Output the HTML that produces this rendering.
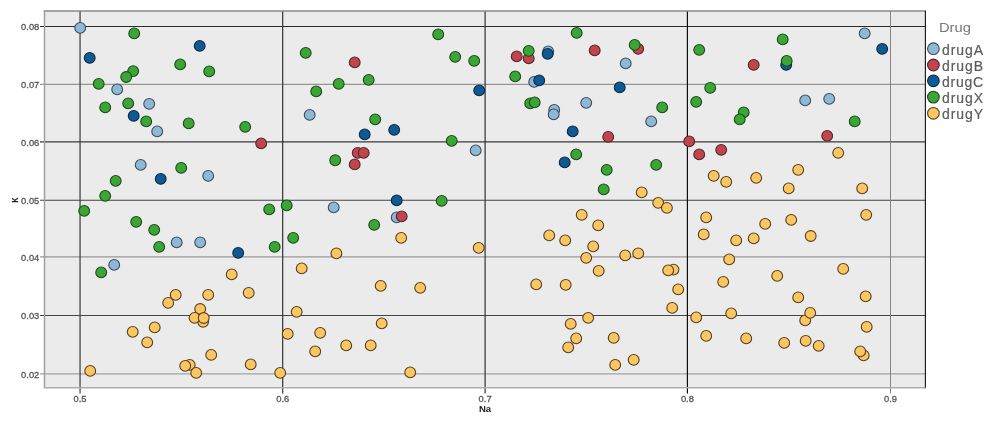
<!DOCTYPE html><html><head><meta charset="utf-8"><style>html,body{margin:0;padding:0;background:#fff}svg{display:block}text{font-family:"Liberation Sans",sans-serif}</style></head><body>
<svg width="998" height="422" viewBox="0 0 998 422">
<rect width="998" height="422" fill="#fff"/>
<g filter="url(#bl2)">
<rect x="44.5" y="11.0" width="880.9" height="376.8" fill="#ebebeb"/>
<line x1="40" x2="925.4" y1="26.5" y2="26.5" stroke="#2a2a2a" stroke-width="1.05"/>
<line x1="40" x2="925.4" y1="84.3" y2="84.3" stroke="#808080" stroke-width="1.0"/>
<line x1="40" x2="925.4" y1="141.8" y2="141.8" stroke="#3a3a3a" stroke-width="1.15"/>
<line x1="40" x2="925.4" y1="200.3" y2="200.3" stroke="#444" stroke-width="1.1"/>
<line x1="40" x2="925.4" y1="256.95" y2="256.95" stroke="#999" stroke-width="1.3"/>
<line x1="40" x2="925.4" y1="315.5" y2="315.5" stroke="#444" stroke-width="1.1"/>
<line x1="40" x2="925.4" y1="373.95" y2="373.95" stroke="#a2a2a2" stroke-width="1.3"/>
<line x1="80.05" x2="80.05" y1="11.0" y2="393.4" stroke="#3a3a3a" stroke-width="1.2"/>
<line x1="282.7" x2="282.7" y1="11.0" y2="393.4" stroke="#2a2a2a" stroke-width="1.15"/>
<line x1="485.1" x2="485.1" y1="11.0" y2="393.4" stroke="#333" stroke-width="1.2"/>
<line x1="687.4" x2="687.4" y1="11.0" y2="393.4" stroke="#050505" stroke-width="1.15"/>
<line x1="890.5" x2="890.5" y1="11.0" y2="393.4" stroke="#777" stroke-width="0.9"/>
<path d="M44.5 387.8V11.0" fill="none" stroke="#a0a0a0" stroke-width="1.5"/>
<path d="M43.8 11.0H925.4" fill="none" stroke="#8a8a8a" stroke-width="1.7"/>
<path d="M925.4 10.6V388.3" fill="none" stroke="#1a1a1a" stroke-width="1.15"/>
<path d="M43.8 387.8H925.4" fill="none" stroke="#adadad" stroke-width="1.6"/>
</g><g filter="url(#bl)">
<text x="21.1" y="30.4" font-size="9.7" fill="#555" stroke="#555" stroke-width="0.3" textLength="18.2" lengthAdjust="spacingAndGlyphs">0.08</text>
<text x="21.1" y="88.2" font-size="9.7" fill="#555" stroke="#555" stroke-width="0.3" textLength="18.2" lengthAdjust="spacingAndGlyphs">0.07</text>
<text x="21.1" y="145.8" font-size="9.7" fill="#555" stroke="#555" stroke-width="0.3" textLength="18.2" lengthAdjust="spacingAndGlyphs">0.06</text>
<text x="21.1" y="204.2" font-size="9.7" fill="#555" stroke="#555" stroke-width="0.3" textLength="18.2" lengthAdjust="spacingAndGlyphs">0.05</text>
<text x="21.1" y="260.9" font-size="9.7" fill="#555" stroke="#555" stroke-width="0.3" textLength="18.2" lengthAdjust="spacingAndGlyphs">0.04</text>
<text x="21.1" y="319.4" font-size="9.7" fill="#555" stroke="#555" stroke-width="0.3" textLength="18.2" lengthAdjust="spacingAndGlyphs">0.03</text>
<text x="21.1" y="377.9" font-size="9.7" fill="#555" stroke="#555" stroke-width="0.3" textLength="18.2" lengthAdjust="spacingAndGlyphs">0.02</text>
<text x="73.5" y="401.8" font-size="9.7" fill="#555" stroke="#555" stroke-width="0.3" textLength="13" lengthAdjust="spacingAndGlyphs">0.5</text>
<text x="276.2" y="401.8" font-size="9.7" fill="#555" stroke="#555" stroke-width="0.3" textLength="13" lengthAdjust="spacingAndGlyphs">0.6</text>
<text x="478.6" y="401.8" font-size="9.7" fill="#555" stroke="#555" stroke-width="0.3" textLength="13" lengthAdjust="spacingAndGlyphs">0.7</text>
<text x="680.9" y="401.8" font-size="9.7" fill="#555" stroke="#555" stroke-width="0.3" textLength="13" lengthAdjust="spacingAndGlyphs">0.8</text>
<text x="884.0" y="401.8" font-size="9.7" fill="#555" stroke="#555" stroke-width="0.3" textLength="13" lengthAdjust="spacingAndGlyphs">0.9</text>
<text x="478.9" y="411.7" font-size="9.3" font-weight="bold" fill="#222" textLength="12.2" lengthAdjust="spacingAndGlyphs">Na</text>
<text transform="translate(18.2,200) rotate(-90) scale(0.8,1)" font-size="8.5" font-weight="bold" fill="#222" stroke="#222" stroke-width="0.2" text-anchor="middle">K</text>
<circle cx="80.20" cy="27.90" r="5.4" fill="#8db8d6" stroke="#3e4d5a" stroke-width="1.1"/>
<circle cx="117.20" cy="89.40" r="5.4" fill="#8db8d6" stroke="#3e4d5a" stroke-width="1.1"/>
<circle cx="149.20" cy="103.90" r="5.4" fill="#8db8d6" stroke="#3e4d5a" stroke-width="1.1"/>
<circle cx="157.20" cy="131.40" r="5.4" fill="#8db8d6" stroke="#3e4d5a" stroke-width="1.1"/>
<circle cx="140.70" cy="164.90" r="5.4" fill="#8db8d6" stroke="#3e4d5a" stroke-width="1.1"/>
<circle cx="208.20" cy="175.90" r="5.4" fill="#8db8d6" stroke="#3e4d5a" stroke-width="1.1"/>
<circle cx="309.70" cy="114.90" r="5.4" fill="#8db8d6" stroke="#3e4d5a" stroke-width="1.1"/>
<circle cx="333.70" cy="207.40" r="5.4" fill="#8db8d6" stroke="#3e4d5a" stroke-width="1.1"/>
<circle cx="176.70" cy="242.40" r="5.4" fill="#8db8d6" stroke="#3e4d5a" stroke-width="1.1"/>
<circle cx="200.20" cy="242.40" r="5.4" fill="#8db8d6" stroke="#3e4d5a" stroke-width="1.1"/>
<circle cx="114.20" cy="264.90" r="5.4" fill="#8db8d6" stroke="#3e4d5a" stroke-width="1.1"/>
<circle cx="475.70" cy="150.40" r="5.4" fill="#8db8d6" stroke="#3e4d5a" stroke-width="1.1"/>
<circle cx="396.70" cy="217.40" r="5.4" fill="#8db8d6" stroke="#3e4d5a" stroke-width="1.1"/>
<circle cx="548.20" cy="51.40" r="5.4" fill="#8db8d6" stroke="#3e4d5a" stroke-width="1.1"/>
<circle cx="625.70" cy="63.40" r="5.4" fill="#8db8d6" stroke="#3e4d5a" stroke-width="1.1"/>
<circle cx="534.20" cy="81.90" r="5.4" fill="#8db8d6" stroke="#3e4d5a" stroke-width="1.1"/>
<circle cx="586.20" cy="102.90" r="5.4" fill="#8db8d6" stroke="#3e4d5a" stroke-width="1.1"/>
<circle cx="554.20" cy="109.90" r="5.4" fill="#8db8d6" stroke="#3e4d5a" stroke-width="1.1"/>
<circle cx="553.70" cy="114.40" r="5.4" fill="#8db8d6" stroke="#3e4d5a" stroke-width="1.1"/>
<circle cx="651.20" cy="121.40" r="5.4" fill="#8db8d6" stroke="#3e4d5a" stroke-width="1.1"/>
<circle cx="864.70" cy="33.40" r="5.4" fill="#8db8d6" stroke="#3e4d5a" stroke-width="1.1"/>
<circle cx="805.20" cy="100.40" r="5.4" fill="#8db8d6" stroke="#3e4d5a" stroke-width="1.1"/>
<circle cx="829.20" cy="98.90" r="5.4" fill="#8db8d6" stroke="#3e4d5a" stroke-width="1.1"/>
<circle cx="261.20" cy="143.40" r="5.4" fill="#c2444e" stroke="#4d2a2e" stroke-width="1.1"/>
<circle cx="354.70" cy="62.40" r="5.4" fill="#c2444e" stroke="#4d2a2e" stroke-width="1.1"/>
<circle cx="357.70" cy="152.90" r="5.4" fill="#c2444e" stroke="#4d2a2e" stroke-width="1.1"/>
<circle cx="363.70" cy="152.90" r="5.4" fill="#c2444e" stroke="#4d2a2e" stroke-width="1.1"/>
<circle cx="354.70" cy="164.40" r="5.4" fill="#c2444e" stroke="#4d2a2e" stroke-width="1.1"/>
<circle cx="401.70" cy="216.40" r="5.4" fill="#c2444e" stroke="#4d2a2e" stroke-width="1.1"/>
<circle cx="638.20" cy="48.90" r="5.4" fill="#c2444e" stroke="#4d2a2e" stroke-width="1.1"/>
<circle cx="594.70" cy="50.40" r="5.4" fill="#c2444e" stroke="#4d2a2e" stroke-width="1.1"/>
<circle cx="516.70" cy="56.40" r="5.4" fill="#c2444e" stroke="#4d2a2e" stroke-width="1.1"/>
<circle cx="528.70" cy="58.40" r="5.4" fill="#c2444e" stroke="#4d2a2e" stroke-width="1.1"/>
<circle cx="608.20" cy="136.90" r="5.4" fill="#c2444e" stroke="#4d2a2e" stroke-width="1.1"/>
<circle cx="753.70" cy="64.90" r="5.4" fill="#c2444e" stroke="#4d2a2e" stroke-width="1.1"/>
<circle cx="827.20" cy="135.90" r="5.4" fill="#c2444e" stroke="#4d2a2e" stroke-width="1.1"/>
<circle cx="689.20" cy="141.40" r="5.4" fill="#c2444e" stroke="#4d2a2e" stroke-width="1.1"/>
<circle cx="699.20" cy="154.40" r="5.4" fill="#c2444e" stroke="#4d2a2e" stroke-width="1.1"/>
<circle cx="721.20" cy="149.90" r="5.4" fill="#c2444e" stroke="#4d2a2e" stroke-width="1.1"/>
<circle cx="199.70" cy="45.90" r="5.4" fill="#0f5a94" stroke="#0e2a42" stroke-width="1.1"/>
<circle cx="89.70" cy="57.90" r="5.4" fill="#0f5a94" stroke="#0e2a42" stroke-width="1.1"/>
<circle cx="133.70" cy="115.90" r="5.4" fill="#0f5a94" stroke="#0e2a42" stroke-width="1.1"/>
<circle cx="160.70" cy="178.90" r="5.4" fill="#0f5a94" stroke="#0e2a42" stroke-width="1.1"/>
<circle cx="479.20" cy="90.40" r="5.4" fill="#0f5a94" stroke="#0e2a42" stroke-width="1.1"/>
<circle cx="394.20" cy="129.90" r="5.4" fill="#0f5a94" stroke="#0e2a42" stroke-width="1.1"/>
<circle cx="364.70" cy="134.40" r="5.4" fill="#0f5a94" stroke="#0e2a42" stroke-width="1.1"/>
<circle cx="396.70" cy="200.40" r="5.4" fill="#0f5a94" stroke="#0e2a42" stroke-width="1.1"/>
<circle cx="547.70" cy="53.90" r="5.4" fill="#0f5a94" stroke="#0e2a42" stroke-width="1.1"/>
<circle cx="539.20" cy="80.40" r="5.4" fill="#0f5a94" stroke="#0e2a42" stroke-width="1.1"/>
<circle cx="619.70" cy="87.40" r="5.4" fill="#0f5a94" stroke="#0e2a42" stroke-width="1.1"/>
<circle cx="572.70" cy="131.40" r="5.4" fill="#0f5a94" stroke="#0e2a42" stroke-width="1.1"/>
<circle cx="564.70" cy="162.40" r="5.4" fill="#0f5a94" stroke="#0e2a42" stroke-width="1.1"/>
<circle cx="882.20" cy="48.90" r="5.4" fill="#0f5a94" stroke="#0e2a42" stroke-width="1.1"/>
<circle cx="786.20" cy="64.90" r="5.4" fill="#0f5a94" stroke="#0e2a42" stroke-width="1.1"/>
<circle cx="238.20" cy="252.90" r="5.4" fill="#0f5a94" stroke="#0e2a42" stroke-width="1.1"/>
<circle cx="134.20" cy="33.40" r="5.4" fill="#3aa635" stroke="#1f4a1d" stroke-width="1.1"/>
<circle cx="180.20" cy="64.40" r="5.4" fill="#3aa635" stroke="#1f4a1d" stroke-width="1.1"/>
<circle cx="209.20" cy="71.40" r="5.4" fill="#3aa635" stroke="#1f4a1d" stroke-width="1.1"/>
<circle cx="133.20" cy="71.10" r="5.4" fill="#3aa635" stroke="#1f4a1d" stroke-width="1.1"/>
<circle cx="126.20" cy="77.00" r="5.4" fill="#3aa635" stroke="#1f4a1d" stroke-width="1.1"/>
<circle cx="98.70" cy="83.90" r="5.4" fill="#3aa635" stroke="#1f4a1d" stroke-width="1.1"/>
<circle cx="105.20" cy="107.40" r="5.4" fill="#3aa635" stroke="#1f4a1d" stroke-width="1.1"/>
<circle cx="128.20" cy="103.40" r="5.4" fill="#3aa635" stroke="#1f4a1d" stroke-width="1.1"/>
<circle cx="146.20" cy="121.40" r="5.4" fill="#3aa635" stroke="#1f4a1d" stroke-width="1.1"/>
<circle cx="188.70" cy="123.40" r="5.4" fill="#3aa635" stroke="#1f4a1d" stroke-width="1.1"/>
<circle cx="245.20" cy="126.90" r="5.4" fill="#3aa635" stroke="#1f4a1d" stroke-width="1.1"/>
<circle cx="181.20" cy="167.90" r="5.4" fill="#3aa635" stroke="#1f4a1d" stroke-width="1.1"/>
<circle cx="115.70" cy="180.90" r="5.4" fill="#3aa635" stroke="#1f4a1d" stroke-width="1.1"/>
<circle cx="105.20" cy="195.90" r="5.4" fill="#3aa635" stroke="#1f4a1d" stroke-width="1.1"/>
<circle cx="84.20" cy="210.90" r="5.4" fill="#3aa635" stroke="#1f4a1d" stroke-width="1.1"/>
<circle cx="269.20" cy="209.40" r="5.4" fill="#3aa635" stroke="#1f4a1d" stroke-width="1.1"/>
<circle cx="286.70" cy="205.40" r="5.4" fill="#3aa635" stroke="#1f4a1d" stroke-width="1.1"/>
<circle cx="305.70" cy="52.90" r="5.4" fill="#3aa635" stroke="#1f4a1d" stroke-width="1.1"/>
<circle cx="316.20" cy="91.40" r="5.4" fill="#3aa635" stroke="#1f4a1d" stroke-width="1.1"/>
<circle cx="335.20" cy="160.30" r="5.4" fill="#3aa635" stroke="#1f4a1d" stroke-width="1.1"/>
<circle cx="438.20" cy="34.40" r="5.4" fill="#3aa635" stroke="#1f4a1d" stroke-width="1.1"/>
<circle cx="455.20" cy="56.90" r="5.4" fill="#3aa635" stroke="#1f4a1d" stroke-width="1.1"/>
<circle cx="474.20" cy="60.90" r="5.4" fill="#3aa635" stroke="#1f4a1d" stroke-width="1.1"/>
<circle cx="338.70" cy="83.90" r="5.4" fill="#3aa635" stroke="#1f4a1d" stroke-width="1.1"/>
<circle cx="368.70" cy="79.90" r="5.4" fill="#3aa635" stroke="#1f4a1d" stroke-width="1.1"/>
<circle cx="375.20" cy="119.40" r="5.4" fill="#3aa635" stroke="#1f4a1d" stroke-width="1.1"/>
<circle cx="451.70" cy="140.90" r="5.4" fill="#3aa635" stroke="#1f4a1d" stroke-width="1.1"/>
<circle cx="441.70" cy="200.90" r="5.4" fill="#3aa635" stroke="#1f4a1d" stroke-width="1.1"/>
<circle cx="576.70" cy="32.90" r="5.4" fill="#3aa635" stroke="#1f4a1d" stroke-width="1.1"/>
<circle cx="634.70" cy="44.90" r="5.4" fill="#3aa635" stroke="#1f4a1d" stroke-width="1.1"/>
<circle cx="528.70" cy="50.90" r="5.4" fill="#3aa635" stroke="#1f4a1d" stroke-width="1.1"/>
<circle cx="515.20" cy="76.40" r="5.4" fill="#3aa635" stroke="#1f4a1d" stroke-width="1.1"/>
<circle cx="530.20" cy="103.40" r="5.4" fill="#3aa635" stroke="#1f4a1d" stroke-width="1.1"/>
<circle cx="534.70" cy="102.40" r="5.4" fill="#3aa635" stroke="#1f4a1d" stroke-width="1.1"/>
<circle cx="662.20" cy="107.40" r="5.4" fill="#3aa635" stroke="#1f4a1d" stroke-width="1.1"/>
<circle cx="576.20" cy="154.40" r="5.4" fill="#3aa635" stroke="#1f4a1d" stroke-width="1.1"/>
<circle cx="656.20" cy="164.90" r="5.4" fill="#3aa635" stroke="#1f4a1d" stroke-width="1.1"/>
<circle cx="606.70" cy="169.90" r="5.4" fill="#3aa635" stroke="#1f4a1d" stroke-width="1.1"/>
<circle cx="603.70" cy="189.40" r="5.4" fill="#3aa635" stroke="#1f4a1d" stroke-width="1.1"/>
<circle cx="699.20" cy="49.90" r="5.4" fill="#3aa635" stroke="#1f4a1d" stroke-width="1.1"/>
<circle cx="782.70" cy="39.40" r="5.4" fill="#3aa635" stroke="#1f4a1d" stroke-width="1.1"/>
<circle cx="786.70" cy="60.90" r="5.4" fill="#3aa635" stroke="#1f4a1d" stroke-width="1.1"/>
<circle cx="710.20" cy="87.90" r="5.4" fill="#3aa635" stroke="#1f4a1d" stroke-width="1.1"/>
<circle cx="696.20" cy="101.90" r="5.4" fill="#3aa635" stroke="#1f4a1d" stroke-width="1.1"/>
<circle cx="743.70" cy="112.40" r="5.4" fill="#3aa635" stroke="#1f4a1d" stroke-width="1.1"/>
<circle cx="739.70" cy="119.40" r="5.4" fill="#3aa635" stroke="#1f4a1d" stroke-width="1.1"/>
<circle cx="854.70" cy="121.40" r="5.4" fill="#3aa635" stroke="#1f4a1d" stroke-width="1.1"/>
<circle cx="136.20" cy="221.90" r="5.4" fill="#3aa635" stroke="#1f4a1d" stroke-width="1.1"/>
<circle cx="154.20" cy="229.90" r="5.4" fill="#3aa635" stroke="#1f4a1d" stroke-width="1.1"/>
<circle cx="159.20" cy="246.90" r="5.4" fill="#3aa635" stroke="#1f4a1d" stroke-width="1.1"/>
<circle cx="274.70" cy="246.90" r="5.4" fill="#3aa635" stroke="#1f4a1d" stroke-width="1.1"/>
<circle cx="293.20" cy="237.90" r="5.4" fill="#3aa635" stroke="#1f4a1d" stroke-width="1.1"/>
<circle cx="101.20" cy="272.40" r="5.4" fill="#3aa635" stroke="#1f4a1d" stroke-width="1.1"/>
<circle cx="374.20" cy="224.90" r="5.4" fill="#3aa635" stroke="#1f4a1d" stroke-width="1.1"/>
<circle cx="641.70" cy="192.40" r="5.4" fill="#ffc55f" stroke="#4f4228" stroke-width="1.1"/>
<circle cx="658.20" cy="202.90" r="5.4" fill="#ffc55f" stroke="#4f4228" stroke-width="1.1"/>
<circle cx="666.90" cy="207.90" r="5.4" fill="#ffc55f" stroke="#4f4228" stroke-width="1.1"/>
<circle cx="581.70" cy="214.90" r="5.4" fill="#ffc55f" stroke="#4f4228" stroke-width="1.1"/>
<circle cx="838.20" cy="152.90" r="5.4" fill="#ffc55f" stroke="#4f4228" stroke-width="1.1"/>
<circle cx="798.20" cy="169.90" r="5.4" fill="#ffc55f" stroke="#4f4228" stroke-width="1.1"/>
<circle cx="713.70" cy="175.90" r="5.4" fill="#ffc55f" stroke="#4f4228" stroke-width="1.1"/>
<circle cx="726.20" cy="181.90" r="5.4" fill="#ffc55f" stroke="#4f4228" stroke-width="1.1"/>
<circle cx="756.20" cy="177.90" r="5.4" fill="#ffc55f" stroke="#4f4228" stroke-width="1.1"/>
<circle cx="788.70" cy="188.40" r="5.4" fill="#ffc55f" stroke="#4f4228" stroke-width="1.1"/>
<circle cx="862.20" cy="188.40" r="5.4" fill="#ffc55f" stroke="#4f4228" stroke-width="1.1"/>
<circle cx="866.20" cy="214.90" r="5.4" fill="#ffc55f" stroke="#4f4228" stroke-width="1.1"/>
<circle cx="231.70" cy="274.40" r="5.4" fill="#ffc55f" stroke="#4f4228" stroke-width="1.1"/>
<circle cx="301.70" cy="268.40" r="5.4" fill="#ffc55f" stroke="#4f4228" stroke-width="1.1"/>
<circle cx="175.70" cy="294.90" r="5.4" fill="#ffc55f" stroke="#4f4228" stroke-width="1.1"/>
<circle cx="168.20" cy="302.90" r="5.4" fill="#ffc55f" stroke="#4f4228" stroke-width="1.1"/>
<circle cx="208.20" cy="294.90" r="5.4" fill="#ffc55f" stroke="#4f4228" stroke-width="1.1"/>
<circle cx="248.70" cy="292.90" r="5.4" fill="#ffc55f" stroke="#4f4228" stroke-width="1.1"/>
<circle cx="203.10" cy="321.80" r="5.4" fill="#ffc55f" stroke="#4f4228" stroke-width="1.1"/>
<circle cx="200.20" cy="309.00" r="5.4" fill="#ffc55f" stroke="#4f4228" stroke-width="1.1"/>
<circle cx="194.60" cy="317.90" r="5.4" fill="#ffc55f" stroke="#4f4228" stroke-width="1.1"/>
<circle cx="203.70" cy="318.00" r="5.4" fill="#ffc55f" stroke="#4f4228" stroke-width="1.1"/>
<circle cx="296.70" cy="311.90" r="5.4" fill="#ffc55f" stroke="#4f4228" stroke-width="1.1"/>
<circle cx="132.70" cy="331.90" r="5.4" fill="#ffc55f" stroke="#4f4228" stroke-width="1.1"/>
<circle cx="154.70" cy="327.40" r="5.4" fill="#ffc55f" stroke="#4f4228" stroke-width="1.1"/>
<circle cx="147.20" cy="342.40" r="5.4" fill="#ffc55f" stroke="#4f4228" stroke-width="1.1"/>
<circle cx="287.70" cy="333.90" r="5.4" fill="#ffc55f" stroke="#4f4228" stroke-width="1.1"/>
<circle cx="320.20" cy="332.90" r="5.4" fill="#ffc55f" stroke="#4f4228" stroke-width="1.1"/>
<circle cx="315.20" cy="351.40" r="5.4" fill="#ffc55f" stroke="#4f4228" stroke-width="1.1"/>
<circle cx="211.20" cy="354.90" r="5.4" fill="#ffc55f" stroke="#4f4228" stroke-width="1.1"/>
<circle cx="189.70" cy="364.90" r="5.4" fill="#ffc55f" stroke="#4f4228" stroke-width="1.1"/>
<circle cx="185.20" cy="365.90" r="5.4" fill="#ffc55f" stroke="#4f4228" stroke-width="1.1"/>
<circle cx="250.70" cy="364.40" r="5.4" fill="#ffc55f" stroke="#4f4228" stroke-width="1.1"/>
<circle cx="196.20" cy="372.90" r="5.4" fill="#ffc55f" stroke="#4f4228" stroke-width="1.1"/>
<circle cx="280.20" cy="372.90" r="5.4" fill="#ffc55f" stroke="#4f4228" stroke-width="1.1"/>
<circle cx="90.20" cy="370.90" r="5.4" fill="#ffc55f" stroke="#4f4228" stroke-width="1.1"/>
<circle cx="336.40" cy="253.40" r="5.4" fill="#ffc55f" stroke="#4f4228" stroke-width="1.1"/>
<circle cx="401.20" cy="237.90" r="5.4" fill="#ffc55f" stroke="#4f4228" stroke-width="1.1"/>
<circle cx="478.70" cy="247.90" r="5.4" fill="#ffc55f" stroke="#4f4228" stroke-width="1.1"/>
<circle cx="380.70" cy="285.90" r="5.4" fill="#ffc55f" stroke="#4f4228" stroke-width="1.1"/>
<circle cx="420.20" cy="287.90" r="5.4" fill="#ffc55f" stroke="#4f4228" stroke-width="1.1"/>
<circle cx="381.70" cy="323.40" r="5.4" fill="#ffc55f" stroke="#4f4228" stroke-width="1.1"/>
<circle cx="346.20" cy="345.40" r="5.4" fill="#ffc55f" stroke="#4f4228" stroke-width="1.1"/>
<circle cx="370.70" cy="345.40" r="5.4" fill="#ffc55f" stroke="#4f4228" stroke-width="1.1"/>
<circle cx="410.20" cy="372.40" r="5.4" fill="#ffc55f" stroke="#4f4228" stroke-width="1.1"/>
<circle cx="598.20" cy="225.40" r="5.4" fill="#ffc55f" stroke="#4f4228" stroke-width="1.1"/>
<circle cx="549.20" cy="235.40" r="5.4" fill="#ffc55f" stroke="#4f4228" stroke-width="1.1"/>
<circle cx="565.20" cy="240.40" r="5.4" fill="#ffc55f" stroke="#4f4228" stroke-width="1.1"/>
<circle cx="593.20" cy="246.40" r="5.4" fill="#ffc55f" stroke="#4f4228" stroke-width="1.1"/>
<circle cx="586.20" cy="257.90" r="5.4" fill="#ffc55f" stroke="#4f4228" stroke-width="1.1"/>
<circle cx="625.20" cy="255.40" r="5.4" fill="#ffc55f" stroke="#4f4228" stroke-width="1.1"/>
<circle cx="638.20" cy="253.40" r="5.4" fill="#ffc55f" stroke="#4f4228" stroke-width="1.1"/>
<circle cx="598.70" cy="270.90" r="5.4" fill="#ffc55f" stroke="#4f4228" stroke-width="1.1"/>
<circle cx="536.20" cy="284.40" r="5.4" fill="#ffc55f" stroke="#4f4228" stroke-width="1.1"/>
<circle cx="565.70" cy="284.90" r="5.4" fill="#ffc55f" stroke="#4f4228" stroke-width="1.1"/>
<circle cx="588.20" cy="317.90" r="5.4" fill="#ffc55f" stroke="#4f4228" stroke-width="1.1"/>
<circle cx="570.70" cy="323.90" r="5.4" fill="#ffc55f" stroke="#4f4228" stroke-width="1.1"/>
<circle cx="576.20" cy="338.40" r="5.4" fill="#ffc55f" stroke="#4f4228" stroke-width="1.1"/>
<circle cx="613.70" cy="337.90" r="5.4" fill="#ffc55f" stroke="#4f4228" stroke-width="1.1"/>
<circle cx="568.20" cy="347.40" r="5.4" fill="#ffc55f" stroke="#4f4228" stroke-width="1.1"/>
<circle cx="615.20" cy="364.90" r="5.4" fill="#ffc55f" stroke="#4f4228" stroke-width="1.1"/>
<circle cx="633.70" cy="359.90" r="5.4" fill="#ffc55f" stroke="#4f4228" stroke-width="1.1"/>
<circle cx="706.20" cy="217.40" r="5.4" fill="#ffc55f" stroke="#4f4228" stroke-width="1.1"/>
<circle cx="765.20" cy="223.90" r="5.4" fill="#ffc55f" stroke="#4f4228" stroke-width="1.1"/>
<circle cx="791.20" cy="219.90" r="5.4" fill="#ffc55f" stroke="#4f4228" stroke-width="1.1"/>
<circle cx="703.70" cy="234.40" r="5.4" fill="#ffc55f" stroke="#4f4228" stroke-width="1.1"/>
<circle cx="736.20" cy="240.40" r="5.4" fill="#ffc55f" stroke="#4f4228" stroke-width="1.1"/>
<circle cx="753.70" cy="238.40" r="5.4" fill="#ffc55f" stroke="#4f4228" stroke-width="1.1"/>
<circle cx="810.70" cy="236.00" r="5.4" fill="#ffc55f" stroke="#4f4228" stroke-width="1.1"/>
<circle cx="729.20" cy="259.40" r="5.4" fill="#ffc55f" stroke="#4f4228" stroke-width="1.1"/>
<circle cx="673.50" cy="269.60" r="5.4" fill="#ffc55f" stroke="#4f4228" stroke-width="1.1"/>
<circle cx="668.20" cy="270.40" r="5.4" fill="#ffc55f" stroke="#4f4228" stroke-width="1.1"/>
<circle cx="777.20" cy="275.90" r="5.4" fill="#ffc55f" stroke="#4f4228" stroke-width="1.1"/>
<circle cx="843.20" cy="268.90" r="5.4" fill="#ffc55f" stroke="#4f4228" stroke-width="1.1"/>
<circle cx="723.20" cy="281.90" r="5.4" fill="#ffc55f" stroke="#4f4228" stroke-width="1.1"/>
<circle cx="678.20" cy="289.40" r="5.4" fill="#ffc55f" stroke="#4f4228" stroke-width="1.1"/>
<circle cx="798.20" cy="297.40" r="5.4" fill="#ffc55f" stroke="#4f4228" stroke-width="1.1"/>
<circle cx="865.70" cy="296.40" r="5.4" fill="#ffc55f" stroke="#4f4228" stroke-width="1.1"/>
<circle cx="672.20" cy="307.90" r="5.4" fill="#ffc55f" stroke="#4f4228" stroke-width="1.1"/>
<circle cx="696.20" cy="317.40" r="5.4" fill="#ffc55f" stroke="#4f4228" stroke-width="1.1"/>
<circle cx="731.20" cy="313.40" r="5.4" fill="#ffc55f" stroke="#4f4228" stroke-width="1.1"/>
<circle cx="805.20" cy="320.40" r="5.4" fill="#ffc55f" stroke="#4f4228" stroke-width="1.1"/>
<circle cx="810.20" cy="312.90" r="5.4" fill="#ffc55f" stroke="#4f4228" stroke-width="1.1"/>
<circle cx="866.70" cy="326.90" r="5.4" fill="#ffc55f" stroke="#4f4228" stroke-width="1.1"/>
<circle cx="706.20" cy="335.90" r="5.4" fill="#ffc55f" stroke="#4f4228" stroke-width="1.1"/>
<circle cx="746.20" cy="338.40" r="5.4" fill="#ffc55f" stroke="#4f4228" stroke-width="1.1"/>
<circle cx="784.20" cy="342.90" r="5.4" fill="#ffc55f" stroke="#4f4228" stroke-width="1.1"/>
<circle cx="805.70" cy="340.90" r="5.4" fill="#ffc55f" stroke="#4f4228" stroke-width="1.1"/>
<circle cx="818.70" cy="345.90" r="5.4" fill="#ffc55f" stroke="#4f4228" stroke-width="1.1"/>
<circle cx="863.70" cy="355.40" r="5.4" fill="#ffc55f" stroke="#4f4228" stroke-width="1.1"/>
<circle cx="860.20" cy="351.40" r="5.4" fill="#ffc55f" stroke="#4f4228" stroke-width="1.1"/>
<text x="939" y="32.1" font-size="13.6" fill="#777" textLength="31.8" lengthAdjust="spacingAndGlyphs">Drug</text>
<circle cx="933.4" cy="48.7" r="5.85" fill="#8db8d6" stroke="#3e4d5a" stroke-width="1.1"/>
<text x="941.9" y="54.7" font-size="14" fill="#5c5c5c" stroke="#5c5c5c" stroke-width="0.2" textLength="41.2" lengthAdjust="spacing">drugA</text>
<circle cx="933.4" cy="65.0" r="5.85" fill="#c2444e" stroke="#4d2a2e" stroke-width="1.1"/>
<text x="941.9" y="71.0" font-size="14" fill="#5c5c5c" stroke="#5c5c5c" stroke-width="0.2" textLength="41.2" lengthAdjust="spacing">drugB</text>
<circle cx="933.4" cy="80.8" r="5.85" fill="#0f5a94" stroke="#0e2a42" stroke-width="1.1"/>
<text x="941.9" y="86.8" font-size="14" fill="#5c5c5c" stroke="#5c5c5c" stroke-width="0.2" textLength="41.2" lengthAdjust="spacing">drugC</text>
<circle cx="933.4" cy="97.1" r="5.85" fill="#3aa635" stroke="#1f4a1d" stroke-width="1.1"/>
<text x="941.9" y="103.1" font-size="14" fill="#5c5c5c" stroke="#5c5c5c" stroke-width="0.2" textLength="41.2" lengthAdjust="spacing">drugX</text>
<circle cx="933.4" cy="113.3" r="5.85" fill="#ffc55f" stroke="#4f4228" stroke-width="1.1"/>
<text x="941.9" y="119.3" font-size="14" fill="#5c5c5c" stroke="#5c5c5c" stroke-width="0.2" textLength="41.2" lengthAdjust="spacing">drugY</text>
</g>
<defs><filter id="bl" x="0" y="0" width="998" height="422" filterUnits="userSpaceOnUse"><feGaussianBlur stdDeviation="0.45"/></filter><filter id="bl2" x="0" y="0" width="998" height="422" filterUnits="userSpaceOnUse"><feGaussianBlur stdDeviation="0.3"/></filter></defs>
</svg></body></html>
